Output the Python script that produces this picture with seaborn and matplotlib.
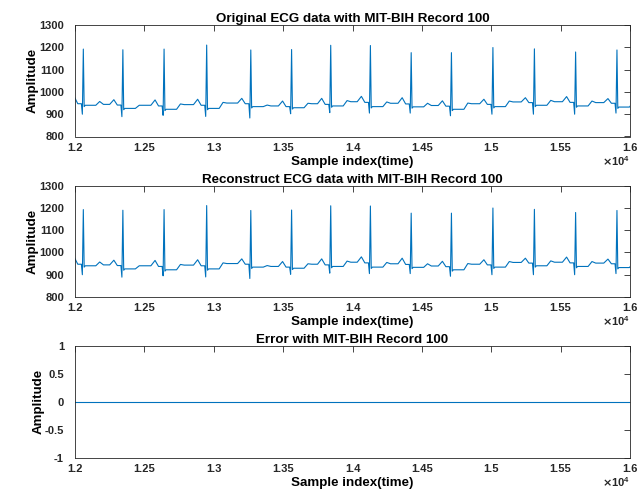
import numpy as np
import pandas as pd
import matplotlib
matplotlib.use("Agg")
import matplotlib.pyplot as plt
import seaborn as sns
from matplotlib.ticker import FuncFormatter

# ---- data (MIT-BIH record 100, samples 12000-16000) ----
r_index = [12060, 12345, 12642, 12949, 13267, 13561, 13843, 14129, 14423, 14713, 15012, 15311, 15608, 15906]
r_amp = [1192, 1189, 1192, 1210, 1188, 1190, 1209, 1208, 1176, 1176, 1199, 1193, 1179, 1188]
q_amp = [900, 889, 895, 890, 883, 902, 907, 905, 905, 893, 900, 900, 900, 905]
p_amp = [978, 965, 964, 967, 971, 959, 971, 980, 974, 960, 967, 974, 979, 970]
st_level = [940, 926, 922, 926, 934, 929, 937, 934, 933, 922, 934, 940, 937, 932]
t_amp = [957, 940, 946, 953, 941, 949, 961, 955, 949, 950, 959, 962, 959, 955]
tp_level = [944, 940, 943, 950, 937, 947, 956, 949, 939, 947, 955, 956, 952, 950]
lead_in_level = 950

# beat wave landmarks (offset from R peak, in samples)
p_on, p_pk, p_off, q_on, q_pk = -95, -65, -40, -14, -7
s_pk, st_on, t_on, t_pk, t_off = 6, 14, 90, 118, 145

xs, ys = [], []
prev_tp = lead_in_level
for i, r in enumerate(r_index):
    pr = prev_tp - 3
    xs += [r + p_on, r + p_pk, r + p_off, r + q_on, r + q_pk, r,
           r + s_pk, r + st_on, r + t_on, r + t_pk, r + t_off]
    ys += [prev_tp, p_amp[i], pr, pr, q_amp[i], r_amp[i],
           st_level[i] - 6, st_level[i], st_level[i], t_amp[i], tp_level[i]]
    prev_tp = tp_level[i]

original = pd.DataFrame({"sample": xs, "amp": ys})
reconstructed = original.copy()
error = pd.DataFrame({"sample": original["sample"],
                      "amp": original["amp"] - reconstructed["amp"]})

# ---- style ----
sns.set_style("white")
plt.rcParams["font.family"] = ["Liberation Sans", "DejaVu Sans"]
plt.rcParams["font.weight"] = "bold"
plt.rcParams["axes.labelweight"] = "bold"
plt.rcParams["axes.titleweight"] = "bold"

line_color = "#0072BD"
edge = "#262626"

fig = plt.figure(figsize=(6.39, 4.91), dpi=100)
left, width, height = 75 / 639, 555 / 639, 111.5 / 491
tops = [25, 185.5, 346]

panels = [
    ("Original ECG data with MIT-BIH Record 100", original, (800, 1300), list(range(800, 1301, 100))),
    ("Reconstruct ECG data with MIT-BIH Record 100", reconstructed, (800, 1300), list(range(800, 1301, 100))),
    ("Error with MIT-BIH Record 100", error, (-1, 1), [-1, -0.5, 0, 0.5, 1]),
]

xticks = list(range(12000, 16001, 500))

for (title, df, ylim, yticks), top in zip(panels, tops):
    bottom = (491 - top - 111.5) / 491
    ax = fig.add_axes([left, bottom, width, height])
    sns.lineplot(data=df, x="sample", y="amp", ax=ax, color=line_color,
                 linewidth=0.8, estimator=None, sort=False)
    ax.set_xlim(12000, 16000)
    ax.set_ylim(*ylim)
    ax.set_xticks(xticks)
    ax.set_yticks(yticks)
    ax.xaxis.set_major_formatter(FuncFormatter(lambda v, p: f"{v / 1e4:g}"))
    ax.yaxis.set_major_formatter(FuncFormatter(lambda v, p: f"{v:g}"))
    ax.tick_params(direction="in", top=True, right=True, length=4, width=0.6,
                   color=edge, labelsize=8, labelcolor=edge)
    ax.tick_params(axis="x", pad=4.5)
    ax.tick_params(axis="y", pad=8)
    for s in ax.spines.values():
        s.set_color(edge)
        s.set_linewidth(0.6)
    ax.set_title(title, fontsize=9.6, color="black", pad=2)
    ax.set_xlabel("Sample index(time)", fontsize=9.6, color="black", labelpad=2)
    ax.set_ylabel("Amplitude", fontsize=9.6, color="black", labelpad=0)
    ax.text(1.0, -0.22, r"$\times\mathregular{10^{4}}$", transform=ax.transAxes,
            ha="right", va="center", fontsize=8, color=edge)

fig.savefig("out.png", dpi=100)
